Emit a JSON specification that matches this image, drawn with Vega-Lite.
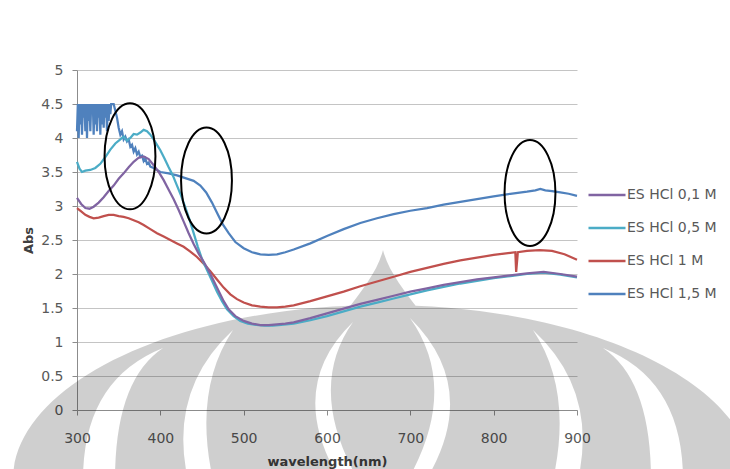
{
  "$schema": "https://vega.github.io/schema/vega-lite/v6.json",
  "width": 500,
  "height": 340,
  "autosize": "none",
  "padding": {"left": 77, "top": 70, "right": 153, "bottom": 59},
  "background": "white",
  "config": {
    "view": {"stroke": null},
    "font": "DejaVu Sans",
    "axis": {"labelFont": "DejaVu Sans", "labelFontSize": 14, "labelColor": "#595959", "titleFont": "DejaVu Sans", "titleFontSize": 13, "titleFontWeight": "bold", "titleColor": "#404040", "domainColor": "#8c8c8c", "tickColor": "#8c8c8c", "gridColor": "#c4c4c4", "gridWidth": 1, "labelFlush": false}
  },
  "datasets": {
    "spectra": [
      {"s":"ES HCl 1,5 M","w":300,"a":4.1},{"s":"ES HCl 1,5 M","w":301,"a":4.5},{"s":"ES HCl 1,5 M","w":302,"a":4.0},{"s":"ES HCl 1,5 M","w":303,"a":4.5},{"s":"ES HCl 1,5 M","w":304,"a":4.2},{"s":"ES HCl 1,5 M","w":305,"a":4.5},{"s":"ES HCl 1,5 M","w":306,"a":4.05},{"s":"ES HCl 1,5 M","w":307,"a":4.5},{"s":"ES HCl 1,5 M","w":308,"a":4.3},{"s":"ES HCl 1,5 M","w":309,"a":4.5},{"s":"ES HCl 1,5 M","w":310,"a":4.1},{"s":"ES HCl 1,5 M","w":311,"a":4.5},{"s":"ES HCl 1,5 M","w":312,"a":4.0},{"s":"ES HCl 1,5 M","w":313,"a":4.5},{"s":"ES HCl 1,5 M","w":314,"a":4.25},{"s":"ES HCl 1,5 M","w":315,"a":4.5},{"s":"ES HCl 1,5 M","w":316,"a":4.1},{"s":"ES HCl 1,5 M","w":317,"a":4.5},{"s":"ES HCl 1,5 M","w":318,"a":4.35},{"s":"ES HCl 1,5 M","w":319,"a":4.5},{"s":"ES HCl 1,5 M","w":320,"a":4.05},{"s":"ES HCl 1,5 M","w":321,"a":4.5},{"s":"ES HCl 1,5 M","w":322,"a":4.2},{"s":"ES HCl 1,5 M","w":323,"a":4.5},{"s":"ES HCl 1,5 M","w":324,"a":4.1},{"s":"ES HCl 1,5 M","w":325,"a":4.5},{"s":"ES HCl 1,5 M","w":326,"a":4.3},{"s":"ES HCl 1,5 M","w":327,"a":4.5},{"s":"ES HCl 1,5 M","w":328,"a":4.05},{"s":"ES HCl 1,5 M","w":329,"a":4.5},{"s":"ES HCl 1,5 M","w":330,"a":4.2},{"s":"ES HCl 1,5 M","w":331,"a":4.5},{"s":"ES HCl 1,5 M","w":332,"a":4.15},{"s":"ES HCl 1,5 M","w":333,"a":4.5},{"s":"ES HCl 1,5 M","w":334,"a":4.3},{"s":"ES HCl 1,5 M","w":335,"a":4.5},{"s":"ES HCl 1,5 M","w":336,"a":4.1},{"s":"ES HCl 1,5 M","w":337,"a":4.5},{"s":"ES HCl 1,5 M","w":338,"a":4.25},{"s":"ES HCl 1,5 M","w":339,"a":4.5},{"s":"ES HCl 1,5 M","w":340,"a":4.35},{"s":"ES HCl 1,5 M","w":341,"a":4.5},{"s":"ES HCl 1,5 M","w":344,"a":4.5},{"s":"ES HCl 1,5 M","w":346,"a":4.4},{"s":"ES HCl 1,5 M","w":348,"a":4.3},{"s":"ES HCl 1,5 M","w":350,"a":4.15},{"s":"ES HCl 1,5 M","w":352,"a":4.05},{"s":"ES HCl 1,5 M","w":354,"a":4.1},{"s":"ES HCl 1,5 M","w":356,"a":3.98},{"s":"ES HCl 1,5 M","w":358,"a":4.02},{"s":"ES HCl 1,5 M","w":360,"a":3.95},{"s":"ES HCl 1,5 M","w":362,"a":3.98},{"s":"ES HCl 1,5 M","w":364,"a":3.87},{"s":"ES HCl 1,5 M","w":366,"a":3.9},{"s":"ES HCl 1,5 M","w":368,"a":3.8},{"s":"ES HCl 1,5 M","w":370,"a":3.85},{"s":"ES HCl 1,5 M","w":372,"a":3.76},{"s":"ES HCl 1,5 M","w":374,"a":3.8},{"s":"ES HCl 1,5 M","w":376,"a":3.72},{"s":"ES HCl 1,5 M","w":378,"a":3.74},{"s":"ES HCl 1,5 M","w":380,"a":3.66},{"s":"ES HCl 1,5 M","w":382,"a":3.7},{"s":"ES HCl 1,5 M","w":384,"a":3.62},{"s":"ES HCl 1,5 M","w":386,"a":3.64},{"s":"ES HCl 1,5 M","w":388,"a":3.58},{"s":"ES HCl 1,5 M","w":392,"a":3.56},{"s":"ES HCl 1,5 M","w":396,"a":3.53},{"s":"ES HCl 1,5 M","w":400,"a":3.5},{"s":"ES HCl 1,5 M","w":410,"a":3.48},{"s":"ES HCl 1,5 M","w":420,"a":3.45},{"s":"ES HCl 1,5 M","w":430,"a":3.41},{"s":"ES HCl 1,5 M","w":440,"a":3.37},{"s":"ES HCl 1,5 M","w":448,"a":3.3},{"s":"ES HCl 1,5 M","w":455,"a":3.2},{"s":"ES HCl 1,5 M","w":462,"a":3.05},{"s":"ES HCl 1,5 M","w":468,"a":2.9},{"s":"ES HCl 1,5 M","w":475,"a":2.73},{"s":"ES HCl 1,5 M","w":482,"a":2.6},{"s":"ES HCl 1,5 M","w":490,"a":2.47},{"s":"ES HCl 1,5 M","w":500,"a":2.38},{"s":"ES HCl 1,5 M","w":510,"a":2.32},{"s":"ES HCl 1,5 M","w":520,"a":2.29},{"s":"ES HCl 1,5 M","w":530,"a":2.28},{"s":"ES HCl 1,5 M","w":540,"a":2.29},{"s":"ES HCl 1,5 M","w":550,"a":2.32},{"s":"ES HCl 1,5 M","w":560,"a":2.36},{"s":"ES HCl 1,5 M","w":580,"a":2.45},{"s":"ES HCl 1,5 M","w":600,"a":2.56},{"s":"ES HCl 1,5 M","w":620,"a":2.66},{"s":"ES HCl 1,5 M","w":640,"a":2.75},{"s":"ES HCl 1,5 M","w":660,"a":2.82},{"s":"ES HCl 1,5 M","w":680,"a":2.88},{"s":"ES HCl 1,5 M","w":700,"a":2.93},{"s":"ES HCl 1,5 M","w":720,"a":2.97},{"s":"ES HCl 1,5 M","w":740,"a":3.02},{"s":"ES HCl 1,5 M","w":760,"a":3.06},{"s":"ES HCl 1,5 M","w":780,"a":3.1},{"s":"ES HCl 1,5 M","w":800,"a":3.14},{"s":"ES HCl 1,5 M","w":820,"a":3.18},{"s":"ES HCl 1,5 M","w":840,"a":3.21},{"s":"ES HCl 1,5 M","w":850,"a":3.23},{"s":"ES HCl 1,5 M","w":856,"a":3.25},{"s":"ES HCl 1,5 M","w":862,"a":3.23},{"s":"ES HCl 1,5 M","w":870,"a":3.22},{"s":"ES HCl 1,5 M","w":880,"a":3.2},{"s":"ES HCl 1,5 M","w":890,"a":3.18},{"s":"ES HCl 1,5 M","w":900,"a":3.15},

      {"s":"ES HCl 1 M","w":300,"a":2.97},{"s":"ES HCl 1 M","w":305,"a":2.92},{"s":"ES HCl 1 M","w":310,"a":2.87},{"s":"ES HCl 1 M","w":315,"a":2.84},{"s":"ES HCl 1 M","w":320,"a":2.82},{"s":"ES HCl 1 M","w":326,"a":2.83},{"s":"ES HCl 1 M","w":332,"a":2.85},{"s":"ES HCl 1 M","w":338,"a":2.87},{"s":"ES HCl 1 M","w":344,"a":2.87},{"s":"ES HCl 1 M","w":350,"a":2.85},{"s":"ES HCl 1 M","w":356,"a":2.84},{"s":"ES HCl 1 M","w":362,"a":2.82},{"s":"ES HCl 1 M","w":368,"a":2.79},{"s":"ES HCl 1 M","w":374,"a":2.76},{"s":"ES HCl 1 M","w":380,"a":2.72},{"s":"ES HCl 1 M","w":388,"a":2.66},{"s":"ES HCl 1 M","w":396,"a":2.6},{"s":"ES HCl 1 M","w":404,"a":2.55},{"s":"ES HCl 1 M","w":412,"a":2.5},{"s":"ES HCl 1 M","w":420,"a":2.45},{"s":"ES HCl 1 M","w":428,"a":2.4},{"s":"ES HCl 1 M","w":436,"a":2.33},{"s":"ES HCl 1 M","w":444,"a":2.25},{"s":"ES HCl 1 M","w":452,"a":2.15},{"s":"ES HCl 1 M","w":460,"a":2.04},{"s":"ES HCl 1 M","w":468,"a":1.92},{"s":"ES HCl 1 M","w":476,"a":1.8},{"s":"ES HCl 1 M","w":484,"a":1.7},{"s":"ES HCl 1 M","w":492,"a":1.63},{"s":"ES HCl 1 M","w":500,"a":1.58},{"s":"ES HCl 1 M","w":510,"a":1.54},{"s":"ES HCl 1 M","w":520,"a":1.52},{"s":"ES HCl 1 M","w":530,"a":1.51},{"s":"ES HCl 1 M","w":540,"a":1.51},{"s":"ES HCl 1 M","w":550,"a":1.52},{"s":"ES HCl 1 M","w":560,"a":1.54},{"s":"ES HCl 1 M","w":580,"a":1.6},{"s":"ES HCl 1 M","w":600,"a":1.67},{"s":"ES HCl 1 M","w":620,"a":1.74},{"s":"ES HCl 1 M","w":640,"a":1.82},{"s":"ES HCl 1 M","w":660,"a":1.89},{"s":"ES HCl 1 M","w":680,"a":1.96},{"s":"ES HCl 1 M","w":700,"a":2.03},{"s":"ES HCl 1 M","w":720,"a":2.09},{"s":"ES HCl 1 M","w":740,"a":2.15},{"s":"ES HCl 1 M","w":760,"a":2.2},{"s":"ES HCl 1 M","w":780,"a":2.24},{"s":"ES HCl 1 M","w":800,"a":2.28},{"s":"ES HCl 1 M","w":820,"a":2.31},{"s":"ES HCl 1 M","w":826,"a":2.32},{"s":"ES HCl 1 M","w":827,"a":2.03},{"s":"ES HCl 1 M","w":829,"a":2.32},{"s":"ES HCl 1 M","w":840,"a":2.34},{"s":"ES HCl 1 M","w":855,"a":2.35},{"s":"ES HCl 1 M","w":870,"a":2.34},{"s":"ES HCl 1 M","w":885,"a":2.29},{"s":"ES HCl 1 M","w":900,"a":2.21},

      {"s":"ES HCl 0,5 M","w":300,"a":3.65},{"s":"ES HCl 0,5 M","w":303,"a":3.55},{"s":"ES HCl 0,5 M","w":306,"a":3.5},{"s":"ES HCl 0,5 M","w":310,"a":3.52},{"s":"ES HCl 0,5 M","w":316,"a":3.53},{"s":"ES HCl 0,5 M","w":322,"a":3.56},{"s":"ES HCl 0,5 M","w":328,"a":3.62},{"s":"ES HCl 0,5 M","w":334,"a":3.72},{"s":"ES HCl 0,5 M","w":340,"a":3.83},{"s":"ES HCl 0,5 M","w":346,"a":3.92},{"s":"ES HCl 0,5 M","w":352,"a":3.98},{"s":"ES HCl 0,5 M","w":356,"a":4.02},{"s":"ES HCl 0,5 M","w":360,"a":3.96},{"s":"ES HCl 0,5 M","w":364,"a":4.0},{"s":"ES HCl 0,5 M","w":368,"a":4.06},{"s":"ES HCl 0,5 M","w":372,"a":4.05},{"s":"ES HCl 0,5 M","w":376,"a":4.08},{"s":"ES HCl 0,5 M","w":380,"a":4.12},{"s":"ES HCl 0,5 M","w":384,"a":4.1},{"s":"ES HCl 0,5 M","w":388,"a":4.05},{"s":"ES HCl 0,5 M","w":392,"a":3.98},{"s":"ES HCl 0,5 M","w":396,"a":3.9},{"s":"ES HCl 0,5 M","w":400,"a":3.82},{"s":"ES HCl 0,5 M","w":405,"a":3.7},{"s":"ES HCl 0,5 M","w":410,"a":3.57},{"s":"ES HCl 0,5 M","w":415,"a":3.45},{"s":"ES HCl 0,5 M","w":420,"a":3.3},{"s":"ES HCl 0,5 M","w":425,"a":3.15},{"s":"ES HCl 0,5 M","w":430,"a":2.98},{"s":"ES HCl 0,5 M","w":435,"a":2.8},{"s":"ES HCl 0,5 M","w":440,"a":2.6},{"s":"ES HCl 0,5 M","w":445,"a":2.4},{"s":"ES HCl 0,5 M","w":450,"a":2.22},{"s":"ES HCl 0,5 M","w":456,"a":2.06},{"s":"ES HCl 0,5 M","w":462,"a":1.9},{"s":"ES HCl 0,5 M","w":468,"a":1.74},{"s":"ES HCl 0,5 M","w":474,"a":1.6},{"s":"ES HCl 0,5 M","w":480,"a":1.48},{"s":"ES HCl 0,5 M","w":488,"a":1.38},{"s":"ES HCl 0,5 M","w":496,"a":1.31},{"s":"ES HCl 0,5 M","w":505,"a":1.27},{"s":"ES HCl 0,5 M","w":515,"a":1.25},{"s":"ES HCl 0,5 M","w":525,"a":1.24},{"s":"ES HCl 0,5 M","w":535,"a":1.24},{"s":"ES HCl 0,5 M","w":545,"a":1.25},{"s":"ES HCl 0,5 M","w":560,"a":1.27},{"s":"ES HCl 0,5 M","w":580,"a":1.32},{"s":"ES HCl 0,5 M","w":600,"a":1.38},{"s":"ES HCl 0,5 M","w":620,"a":1.45},{"s":"ES HCl 0,5 M","w":640,"a":1.52},{"s":"ES HCl 0,5 M","w":660,"a":1.58},{"s":"ES HCl 0,5 M","w":680,"a":1.64},{"s":"ES HCl 0,5 M","w":700,"a":1.7},{"s":"ES HCl 0,5 M","w":720,"a":1.76},{"s":"ES HCl 0,5 M","w":740,"a":1.81},{"s":"ES HCl 0,5 M","w":760,"a":1.86},{"s":"ES HCl 0,5 M","w":780,"a":1.9},{"s":"ES HCl 0,5 M","w":800,"a":1.94},{"s":"ES HCl 0,5 M","w":820,"a":1.97},{"s":"ES HCl 0,5 M","w":840,"a":2.0},{"s":"ES HCl 0,5 M","w":860,"a":2.02},{"s":"ES HCl 0,5 M","w":880,"a":1.99},{"s":"ES HCl 0,5 M","w":900,"a":1.95},

      {"s":"ES HCl 0,1 M","w":300,"a":3.12},{"s":"ES HCl 0,1 M","w":305,"a":3.03},{"s":"ES HCl 0,1 M","w":310,"a":2.97},{"s":"ES HCl 0,1 M","w":315,"a":2.96},{"s":"ES HCl 0,1 M","w":320,"a":2.99},{"s":"ES HCl 0,1 M","w":326,"a":3.05},{"s":"ES HCl 0,1 M","w":332,"a":3.13},{"s":"ES HCl 0,1 M","w":338,"a":3.22},{"s":"ES HCl 0,1 M","w":344,"a":3.3},{"s":"ES HCl 0,1 M","w":350,"a":3.4},{"s":"ES HCl 0,1 M","w":356,"a":3.48},{"s":"ES HCl 0,1 M","w":362,"a":3.57},{"s":"ES HCl 0,1 M","w":368,"a":3.65},{"s":"ES HCl 0,1 M","w":374,"a":3.71},{"s":"ES HCl 0,1 M","w":380,"a":3.73},{"s":"ES HCl 0,1 M","w":386,"a":3.69},{"s":"ES HCl 0,1 M","w":392,"a":3.6},{"s":"ES HCl 0,1 M","w":398,"a":3.5},{"s":"ES HCl 0,1 M","w":404,"a":3.38},{"s":"ES HCl 0,1 M","w":410,"a":3.24},{"s":"ES HCl 0,1 M","w":416,"a":3.1},{"s":"ES HCl 0,1 M","w":422,"a":2.94},{"s":"ES HCl 0,1 M","w":428,"a":2.77},{"s":"ES HCl 0,1 M","w":434,"a":2.6},{"s":"ES HCl 0,1 M","w":440,"a":2.44},{"s":"ES HCl 0,1 M","w":446,"a":2.3},{"s":"ES HCl 0,1 M","w":452,"a":2.18},{"s":"ES HCl 0,1 M","w":458,"a":2.05},{"s":"ES HCl 0,1 M","w":464,"a":1.9},{"s":"ES HCl 0,1 M","w":470,"a":1.75},{"s":"ES HCl 0,1 M","w":476,"a":1.6},{"s":"ES HCl 0,1 M","w":482,"a":1.48},{"s":"ES HCl 0,1 M","w":490,"a":1.38},{"s":"ES HCl 0,1 M","w":500,"a":1.31},{"s":"ES HCl 0,1 M","w":510,"a":1.27},{"s":"ES HCl 0,1 M","w":520,"a":1.25},{"s":"ES HCl 0,1 M","w":530,"a":1.25},{"s":"ES HCl 0,1 M","w":540,"a":1.26},{"s":"ES HCl 0,1 M","w":550,"a":1.27},{"s":"ES HCl 0,1 M","w":560,"a":1.29},{"s":"ES HCl 0,1 M","w":580,"a":1.35},{"s":"ES HCl 0,1 M","w":600,"a":1.42},{"s":"ES HCl 0,1 M","w":620,"a":1.49},{"s":"ES HCl 0,1 M","w":640,"a":1.56},{"s":"ES HCl 0,1 M","w":660,"a":1.62},{"s":"ES HCl 0,1 M","w":680,"a":1.68},{"s":"ES HCl 0,1 M","w":700,"a":1.74},{"s":"ES HCl 0,1 M","w":720,"a":1.79},{"s":"ES HCl 0,1 M","w":740,"a":1.84},{"s":"ES HCl 0,1 M","w":760,"a":1.88},{"s":"ES HCl 0,1 M","w":780,"a":1.92},{"s":"ES HCl 0,1 M","w":800,"a":1.95},{"s":"ES HCl 0,1 M","w":820,"a":1.98},{"s":"ES HCl 0,1 M","w":840,"a":2.01},{"s":"ES HCl 0,1 M","w":860,"a":2.03},{"s":"ES HCl 0,1 M","w":880,"a":2.0},{"s":"ES HCl 0,1 M","w":900,"a":1.96}
    ],
    "marks": [
      {"w": 363.6, "a": 3.73},
      {"w": 455.4, "a": 3.375},
      {"w": 843.6, "a": 3.19}
    ],
    "watermark": [
      {"w": 667.2, "a": 0}
    ]
  },
  "layer": [
    {
      "data": {"name": "watermark"},
      "mark": {"type": "point", "shape": "M -370 70 A 370 175 0 1 1 370 70 A 370 175 0 1 1 -370 70 Z M 0 -160 C 5 -140 20 -120 40 -95 L -40 -95 C -20 -120 -5 -140 0 -160 Z M 27 -92 Q 78 -20 22 75 L 40 75 Q 100 -20 27 -92 Z M -30 -88 Q -100 -20 -40 75 L -22 75 Q -78 -20 -30 -88 Z M 150 -80 Q 190 -20 170 70 L 195 70 Q 215 -20 150 -80 Z M -150 -80 Q -215 -20 -195 70 L -170 70 Q -190 -20 -150 -80 Z M 220 -62 Q 268 -30 268 70 L 300 70 Q 300 -30 220 -62 Z M -220 -62 Q -300 -30 -300 70 L -268 70 Q -268 -30 -220 -62 Z", "filled": true, "fill": "#000000", "fillOpacity": 0.19, "strokeWidth": 0, "size": 4, "opacity": 1},
      "encoding": {
        "x": {"field": "w", "type": "quantitative"},
        "y": {"field": "a", "type": "quantitative"}
      }
    },
    {
      "data": {"name": "spectra"},
      "mark": {"type": "line", "strokeWidth": 2.25, "interpolate": "linear"},
      "encoding": {
        "x": {"field": "w", "type": "quantitative", "title": "wavelength(nm)",
              "scale": {"domain": [300, 900], "nice": false, "zero": false},
              "axis": {"values": [300, 400, 500, 600, 700, 800, 900], "tickCount": 7, "grid": false, "tickSize": 5, "labelPadding": 16, "titlePadding": 10, "domain": true}},
        "y": {"field": "a", "type": "quantitative", "title": "Abs",
              "scale": {"domain": [0, 5], "nice": false},
              "axis": {"values": [0, 0.5, 1, 1.5, 2, 2.5, 3, 3.5, 4, 4.5, 5], "tickCount": 11, "format": "~g", "grid": true, "tickSize": 5, "labelPadding": 9, "titlePadding": 5, "domain": true}},
        "color": {"field": "s", "type": "nominal",
                  "scale": {"domain": ["ES HCl 0,1 M", "ES HCl 0,5 M", "ES HCl 1 M", "ES HCl 1,5 M"], "range": ["#8064A2", "#4BACC6", "#C0504D", "#4F81BD"]},
                  "legend": {"title": null, "orient": "none", "legendX": 510, "legendY": 105, "padding": 0, "symbolType": "stroke", "symbolSize": 1369, "symbolStrokeWidth": 2.5, "rowPadding": 6, "labelOffset": 0, "labelFont": "DejaVu Sans", "labelFontSize": 14, "labelColor": "#595959"}},
        "order": {"field": "w", "type": "quantitative"}
      }
    },
    {
      "data": {"name": "marks"},
      "mark": {"type": "point", "shape": "M -0.48 0 A 0.48 1 0 1 0 0.48 0 A 0.48 1 0 1 0 -0.48 0 Z", "filled": false, "stroke": "black", "strokeWidth": 2, "size": 11236, "opacity": 1},
      "encoding": {
        "x": {"field": "w", "type": "quantitative"},
        "y": {"field": "a", "type": "quantitative"}
      }
    }
  ]
}
